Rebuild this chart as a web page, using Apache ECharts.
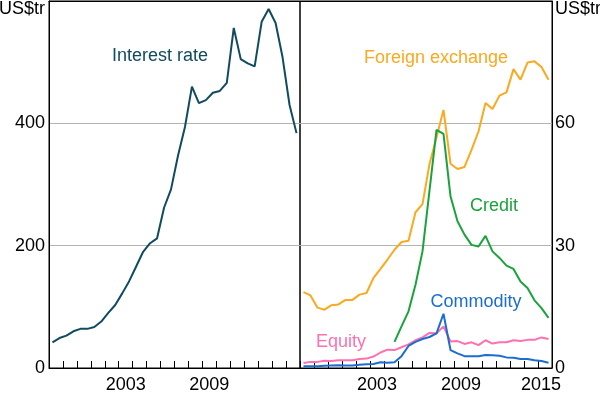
<!DOCTYPE html>
<html>
<head>
<meta charset="utf-8">
<script src="https://cdn.jsdelivr.net/npm/echarts@6/dist/echarts.min.js"></script>
<style>
html,body{margin:0;padding:0;background:#fff;}
#c{width:600px;height:395px;}
</style>
</head>
<body>
<div id="c"></div>
<script>
// Half-yearly observations (end-June / end-December)
const periods = ['1998-06','1998-12','1999-06','1999-12','2000-06','2000-12','2001-06','2001-12',
  '2002-06','2002-12','2003-06','2003-12','2004-06','2004-12','2005-06','2005-12','2006-06','2006-12',
  '2007-06','2007-12','2008-06','2008-12','2009-06','2009-12','2010-06','2010-12','2011-06','2011-12',
  '2012-06','2012-12','2013-06','2013-12','2014-06','2014-12','2015-06','2015-12'];
const years = ['1998','1999','2000','2001','2002','2003','2004','2005','2006','2007','2008','2009',
  '2010','2011','2012','2013','2014','2015'];
const leftYearLabels = ['2003','2009'];
const rightYearLabels = ['2003','2009','2015'];
const leftTicks = [0, 200, 400];
const rightTicks = [0, 30, 60];

// US$ trillion
const interestRate = [42, 49, 53, 60, 64, 64, 67, 76, 90, 103, 122, 142, 166, 190, 204, 212, 262, 292,
  347, 394, 460, 433, 438, 450, 453, 466, 556, 505, 498, 493, 566, 587, 564, 508, 430, 384];
const foreignExchange = [18.6, 17.8, 14.8, 14.3, 15.4, 15.6, 16.7, 16.7, 18.0, 18.4, 22.1, 24.3, 26.6, 29.0,
  30.9, 31.2, 38.2, 40.2, 50.0, 56.5, 63.3, 50.1, 48.8, 49.3, 53.5, 58.0, 65.0, 63.5, 66.8, 67.6,
  73.3, 70.7, 74.9, 75.2, 73.8, 70.7];
const credit = [null, null, null, null, null, null, null, null, null, null, null, null, null, 6.4,
  10.2, 13.9, 20.4, 28.6, 43.5, 58.4, 57.4, 42.1, 36.0, 32.7, 30.2, 29.8, 32.4, 28.6, 27.0, 25.1,
  24.3, 21.2, 19.6, 16.6, 14.7, 12.3];
const equity = [1.2, 1.5, 1.5, 1.8, 1.7, 1.9, 1.9, 1.9, 2.2, 2.3, 2.8, 3.8, 4.5, 4.4, 5.1, 5.8, 6.8, 7.5,
  8.6, 8.5, 10.2, 6.5, 6.6, 5.9, 6.3, 5.6, 6.8, 6.0, 6.3, 6.3, 6.8, 6.6, 6.9, 6.9, 7.5, 7.1];
const commodity = [0.45, 0.4, 0.45, 0.55, 0.6, 0.65, 0.6, 0.6, 0.8, 0.9, 1.0, 1.4, 1.3, 1.4, 2.9, 5.4,
  6.4, 7.1, 7.6, 8.5, 13.3, 4.4, 3.6, 2.9, 2.9, 2.9, 3.2, 3.1, 3.0, 2.6, 2.5, 2.2, 2.2, 1.9, 1.7, 1.3];

const FONT = 'Liberation Sans, Arial, sans-serif';
const C = {ir:'#114b5f', fx:'#fba91e', cr:'#1aa33c', eq:'#ff70b0', co:'#1c6dd0'};

// each half-year plotted at the middle of its half
function toX(p){ const [y,m] = p.split('-').map(Number); return y + (m === 6 ? 0.25 : 0.75); }
function pts(arr){ const out=[]; arr.forEach((v,i)=>{ if(v!=null) out.push([toX(periods[i]), v]); }); return out; }

function catAxis(grid, labels){
  return {
    type:'category', gridIndex:grid, data:years, boundaryGap:true, position:'bottom',
    axisLine:{show:true, lineStyle:{color:'#000', width:1}},
    axisTick:{show:true, inside:true, length:7, interval:0, lineStyle:{color:'#000', width:1}},
    axisLabel:{interval:0, margin:8, color:'#000', fontSize:18, fontFamily:FONT,
      formatter: v => labels.indexOf(v) < 0 ? '' : (v === '2015' ? '{r|' + v + '}' : v),
      rich:{r:{fontSize:18, fontFamily:FONT, color:'#000', padding:[0,8,0,0]}}},
    splitLine:{show:false}
  };
}
function valXAxis(grid){
  return {type:'value', gridIndex:grid, min:1998, max:2016, position:'top',
    axisLine:{show:true, lineStyle:{color:'#000', width:1}}, axisTick:{show:false},
    axisLabel:{show:false}, splitLine:{show:false}};
}
function yAx(grid, pos, max, interval, ticks, margin){
  return {type:'value', gridIndex:grid, position:pos, min:0, max:max, interval:interval,
    axisLine:{show:true, lineStyle:{color:'#000', width:1}}, axisTick:{show:false},
    axisLabel:{margin:margin, color:'#000', fontSize:18, fontFamily:FONT,
      formatter: v => ticks.indexOf(v) < 0 ? '' : String(v)},
    splitLine:{show:true, lineStyle:{color:'#b4b4b4', width:1}}};
}
function line(name, xi, yi, arr, color){
  return {name, type:'line', xAxisIndex:xi, yAxisIndex:yi, data:pts(arr), showSymbol:false,
    symbol:'none', lineStyle:{color, width:2}, itemStyle:{color}, animation:false};
}
function txt(x, y, s, color, align){
  return {type:'text', x, y, z:100, style:{text:s, fill:color, font:'18px ' + FONT,
    align: align || 'center', verticalAlign:'middle'}};
}

const chart = echarts.init(document.getElementById('c'), null, {renderer:'canvas'});
chart.setOption({
  animation:false,
  backgroundColor:'#fff',
  grid:[
    {left:49, top:1, width:251, height:367, show:true, borderColor:'#000', borderWidth:1},
    {left:300, top:1, width:252, height:367, show:true, borderColor:'#000', borderWidth:1}
  ],
  xAxis:[catAxis(0, leftYearLabels), valXAxis(0), catAxis(1, rightYearLabels), valXAxis(1)],
  yAxis:[yAx(0, 'left', 600, 200, leftTicks, 4), yAx(1, 'right', 90, 30, rightTicks, 3)],
  series:[
    line('Interest rate', 1, 0, interestRate, C.ir),
    line('Foreign exchange', 3, 1, foreignExchange, C.fx),
    line('Credit', 3, 1, credit, C.cr),
    line('Equity', 3, 1, equity, C.eq),
    line('Commodity', 3, 1, commodity, C.co)
  ],
  graphic:[
    txt(45, 9, 'US$tr', '#000', 'right'),
    txt(555, 9, 'US$tr', '#000', 'left'),
    txt(160, 56, 'Interest rate', C.ir),
    txt(436, 58, 'Foreign exchange', C.fx),
    txt(494, 206, 'Credit', C.cr),
    txt(476, 302, 'Commodity', C.co),
    txt(341, 342, 'Equity', C.eq)
  ]
});
</script>
</body>
</html>
